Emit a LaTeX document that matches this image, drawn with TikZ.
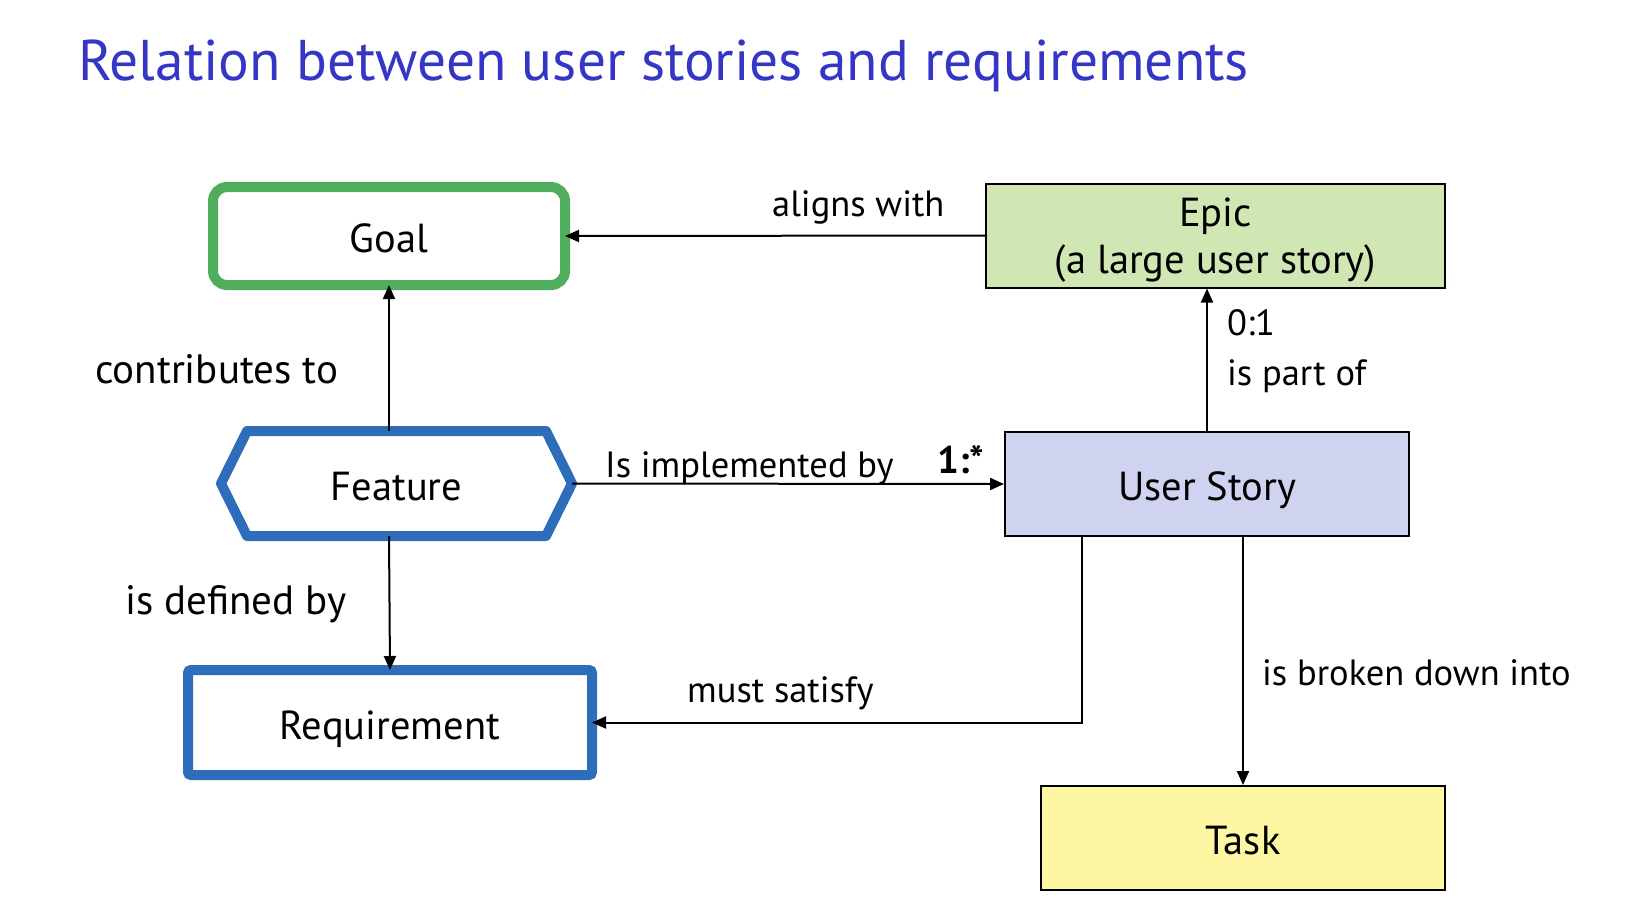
\documentclass[tikz,border=0pt]{standalone}
\usepackage{fontspec}
\setmainfont{PT Sans}
\usetikzlibrary{arrows.meta}
\definecolor{titleblue}{HTML}{3636C6}
\definecolor{goalgreen}{HTML}{4FAD5B}
\definecolor{featblue}{HTML}{2E6DB9}
\definecolor{epicfill}{HTML}{D0E7B4}
\definecolor{usfill}{HTML}{D0D3F0}
\definecolor{taskfill}{HTML}{FDF7A4}
\tikzset{
  nodefont/.style={font=\fontsize{40.5}{47}\selectfont, text height=33pt, text depth=0pt},
  lblfont/.style={font=\fontsize{36.5}{43}\selectfont, inner sep=0pt},
  biglbl/.style={font=\fontsize{41}{48}\selectfont, inner sep=0pt, anchor=base west},
  thickbox/.style={draw=featblue, line width=10pt, outer sep=0pt, rounded corners=3pt, fill=white, nodefont},
  thinbox/.style={draw=black, line width=2pt, nodefont},
  conn/.style={line width=2pt, -{Triangle[length=14pt,width=12pt]}},
  lbl/.style={lblfont, anchor=base west},
}
\begin{document}
\begin{tikzpicture}[x=1pt,y=-1pt]
\useasboundingbox (0,0) rectangle (1638,922);
% title
\node[anchor=base west, inner sep=0pt, text=titleblue, font=\fontsize{57.4}{66}\selectfont] (title) at (78,80) {Relation between user stories and requirements};
% nodes
\node[draw=goalgreen, line width=10pt, outer sep=0pt, rounded corners=14pt, minimum width=352pt, minimum height=98pt, nodefont] (goal) at (389,236) {Goal};
\node[minimum width=351pt, minimum height=105pt, outer sep=0pt] (feature) at (396.5,483.5) {};
\draw[featblue, line width=10pt, line join=round]
  ([xshift=26pt]feature.north west) -- ([xshift=-26pt]feature.north east) -- (feature.east)
  -- ([xshift=-26pt]feature.south east) -- ([xshift=26pt]feature.south west) -- (feature.west) -- cycle;
\node[nodefont] (featuretext) at (feature.center) {Feature};
\node[thickbox, minimum width=404pt, minimum height=105pt] (req) at (390,722.5) {Requirement};
\node[thinbox, fill=epicfill, minimum width=459pt, minimum height=104pt] (epic) at (1215.5,235.5) {};
\node[font=\fontsize{40.5}{47}\selectfont, align=center] (epictext) at ([yshift=-5pt]epic.center) {Epic\\(a large user story)};
\node[thinbox, fill=usfill, minimum width=404pt, minimum height=104pt] (us) at (1207,484) {User Story};
\node[thinbox, fill=taskfill, minimum width=404pt, minimum height=104pt] (task) at (1243,838) {Task};
% connectors
\draw[conn] (epic.west) -- (goal.east);
\draw[conn] (goal.south |- feature.north) -- (goal.south);
\draw[conn] (goal.south |- feature.south) -- (req.north);
\draw[conn] (feature.east) -- (us.west);
\draw[conn] (us.north) -- (us.north |- epic.south);
\draw[conn] ([xshift=-125pt]us.south) |- (req.east);
\draw[conn] (task.north |- us.south) -- (task.north);
% labels
\node[lbl] (l1) at (772,216) {aligns with};
\node[lbl] (l2) at (1227,335) {0:1};
\node[lbl] (l3) at (1227,385) {is part of};
\node[biglbl] (l4) at (95,383) {contributes to};
\node[lbl] (l5) at (605,477) {Is implemented by};
\node[lbl, font=\fontsize{38.5}{45}\selectfont\bfseries] (l6) at (937,473) {1:*};
\node[biglbl] (l7) at (125,614) {is defined by};
\node[lbl] (l8) at (687,702) {must satisfy};
\node[lbl] (l9) at (1262,685) {is broken down into};
\end{tikzpicture}
\end{document}
